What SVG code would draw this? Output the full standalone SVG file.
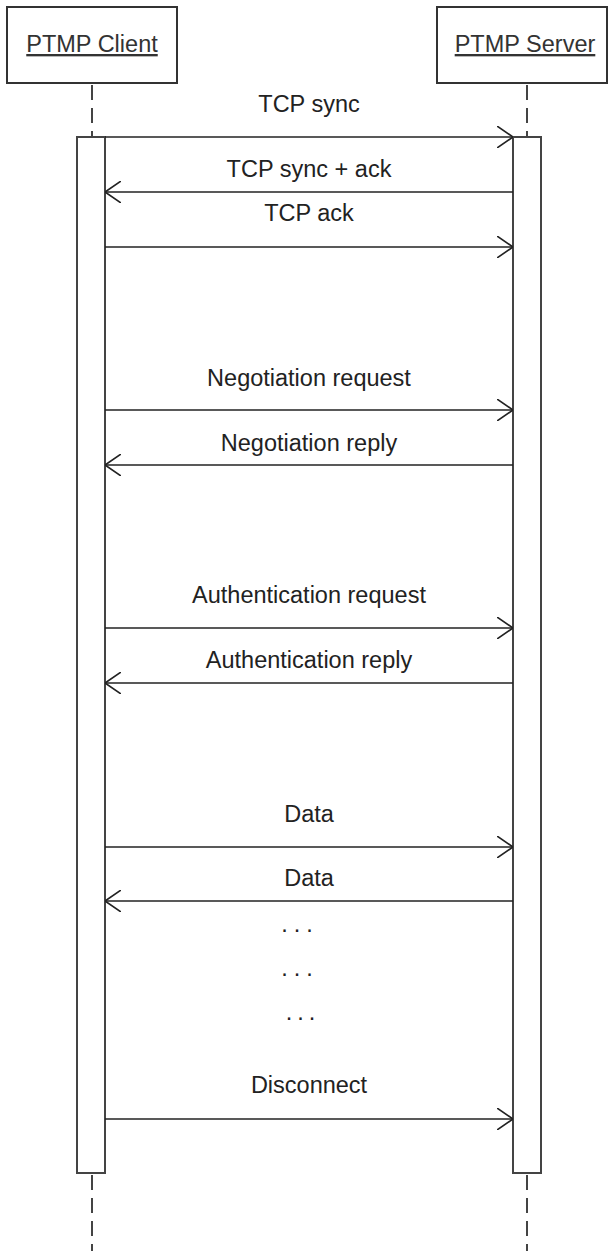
<svg xmlns="http://www.w3.org/2000/svg" width="610" height="1251" viewBox="0 0 610 1251">
<defs>
<style>
.box{fill:#fff;stroke:#333;stroke-width:2}
.life{stroke:#444;stroke-width:2;stroke-dasharray:15 8;fill:none}
.act{fill:#fff;stroke:#444;stroke-width:2}
.msg{stroke:#222;stroke-width:1.6;fill:none}
.lbl{font-family:"Liberation Sans",Arial,sans-serif;font-size:23.5px;fill:#222;text-anchor:middle}
.hd{font-family:"Liberation Sans",Arial,sans-serif;font-size:23.5px;fill:#333;text-anchor:middle;text-decoration:underline}
</style>
<marker id="ah" viewBox="0 0 16 22" refX="16" refY="11" markerWidth="16" markerHeight="22" markerUnits="userSpaceOnUse" orient="auto">
<path d="M0,0 L16,11 L0,22" fill="none" stroke="#222" stroke-width="1.6"/>
</marker>
</defs>
<rect width="610" height="1251" fill="#fff"/>
<g id="client">
<rect class="box" x="7" y="7" width="170" height="76"/>
<text class="hd" x="92" y="52">PTMP Client</text>
<line class="life" x1="92" y1="85" x2="92" y2="137"/>
<line class="life" x1="92" y1="1175" x2="92" y2="1251"/>
<rect class="act" x="77" y="137" width="28" height="1036"/>
</g>
<g id="server">
<rect class="box" x="437" y="7" width="170" height="76"/>
<text class="hd" x="525" y="52">PTMP Server</text>
<line class="life" x1="527" y1="85" x2="527" y2="137"/>
<line class="life" x1="527" y1="1175" x2="527" y2="1251"/>
<rect class="act" x="513" y="137" width="28" height="1036"/>
</g>
<g id="connectors">
<line class="msg" x1="105" y1="137" x2="513" y2="137" marker-end="url(#ah)"/>
<line class="msg" x1="513" y1="192" x2="105" y2="192" marker-end="url(#ah)"/>
<line class="msg" x1="105" y1="247" x2="513" y2="247" marker-end="url(#ah)"/>
<line class="msg" x1="105" y1="410" x2="513" y2="410" marker-end="url(#ah)"/>
<line class="msg" x1="513" y1="465" x2="105" y2="465" marker-end="url(#ah)"/>
<line class="msg" x1="105" y1="628" x2="513" y2="628" marker-end="url(#ah)"/>
<line class="msg" x1="513" y1="683" x2="105" y2="683" marker-end="url(#ah)"/>
<line class="msg" x1="105" y1="847" x2="513" y2="847" marker-end="url(#ah)"/>
<line class="msg" x1="513" y1="901" x2="105" y2="901" marker-end="url(#ah)"/>
<line class="msg" x1="105" y1="1119" x2="513" y2="1119" marker-end="url(#ah)"/>
</g>
<g id="labels">
<text class="lbl" x="309" y="112">TCP sync</text>
<text class="lbl" x="309" y="177">TCP sync + ack</text>
<text class="lbl" x="309" y="221">TCP ack</text>
<text class="lbl" x="309" y="386">Negotiation request</text>
<text class="lbl" x="309" y="451">Negotiation reply</text>
<text class="lbl" x="309" y="603">Authentication request</text>
<text class="lbl" x="309" y="668">Authentication reply</text>
<text class="lbl" x="309" y="822">Data</text>
<text class="lbl" x="309" y="886">Data</text>
<text class="lbl" x="300" y="932" style="letter-spacing:6px">...</text>
<text class="lbl" x="300" y="976" style="letter-spacing:6px">...</text>
<text class="lbl" x="303" y="1020" style="letter-spacing:5px">...</text>
<text class="lbl" x="309" y="1093">Disconnect</text>
</g>
</svg>
